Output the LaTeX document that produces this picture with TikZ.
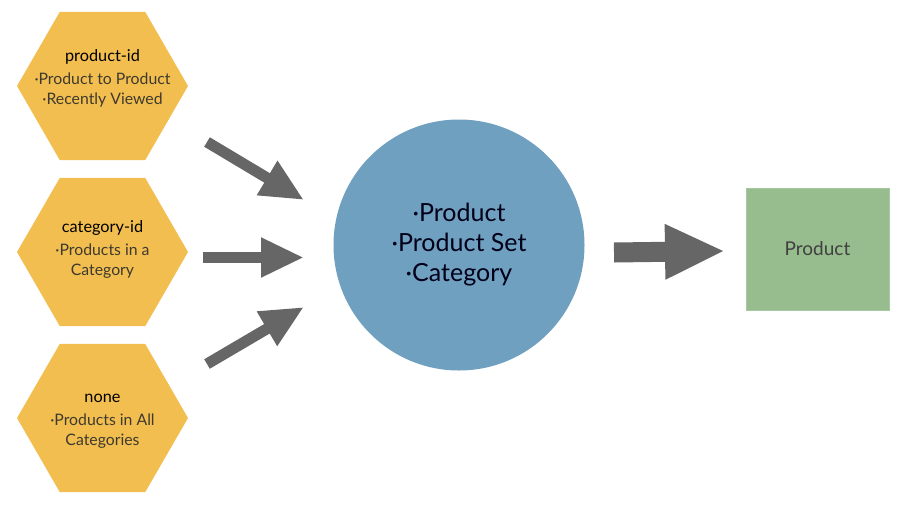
\documentclass[tikz,border=0pt]{standalone}
\usepackage{fontspec}
\setmainfont{Lato}
\usetikzlibrary{positioning,arrows.meta,shapes.geometric}
\definecolor{hexfill}{HTML}{F2BE50}
\definecolor{circfill}{HTML}{6FA0C0}
\definecolor{boxfill}{HTML}{97BD8F}
\definecolor{arrowgray}{HTML}{666666}
\definecolor{bodytext}{HTML}{3E3A2E}

\begin{document}
\begin{tikzpicture}[x=1pt,y=-1pt,
  hexbox/.style={regular polygon, regular polygon sides=6, minimum size=171pt, inner sep=0pt, fill=hexfill, draw=none},
  hextext/.style={align=center, text=bodytext, font=\fontsize{15.8}{20}\selectfont},
  smallarrow/.style={draw=arrowgray, line width=11pt, -{Triangle[length=43pt,width=37pt]}},
  bigarrow/.style={draw=arrowgray, line width=20pt, -{Triangle[length=60pt,width=51pt]}}]
\useasboundingbox (0,0) rectangle (910,507);
% inputs
\node[hexbox] (pid) at (102.5,86) {};
\node[hextext] (pidtxt) at (102.5,78) {\textcolor{black}{\fontsize{16.3}{19}\selectfont product-id}\\[3pt]·Product to Product\\·Recently Viewed};
\node[hexbox] (cid) at (102.5,252) {};
\node[hextext] (cidtxt) at (102.5,249) {\textcolor{black}{\fontsize{16.3}{19}\selectfont category-id}\\[3pt]·Products in a\\Category};
\node[hexbox] (none) at (102.5,418) {};
\node[hextext] (nonetxt) at (102.5,421) {\textcolor{black}{\fontsize{16.3}{19}\selectfont none}\\[3pt]·Products in All\\Categories};
% rule
\node[circle, minimum size=251pt, inner sep=0pt, fill=circfill, align=center, text=black!90!blue,
  font=\fontsize{25}{30}\selectfont] (rule) at (459,245) {·Product\\·Product Set\\·Category};
% output
\node[rectangle, minimum width=143pt, minimum height=122pt, fill=boxfill, draw=boxfill!85!white, line width=0.8pt,
  text=black!75, font=\fontsize{19}{22}\selectfont] (out) at (817.5,249) {Product};
% arrows
\coordinate (pidstart) at (207,142);
\coordinate (pidend) at (304,200);
\coordinate (cidstart) at (203,257.5);
\coordinate (cidend) at (304,257.5);
\coordinate (nonestart) at (207,364);
\coordinate (noneend) at (304,307);
\coordinate (rulestart) at (614,252.5);
\coordinate (ruleend) at (725,251);
\draw[smallarrow] (pidstart) -- (pidend);
\draw[smallarrow] (cidstart) -- (cidend);
\draw[smallarrow] (nonestart) -- (noneend);
\draw[bigarrow] (rulestart) -- (ruleend);
\end{tikzpicture}
\end{document}
